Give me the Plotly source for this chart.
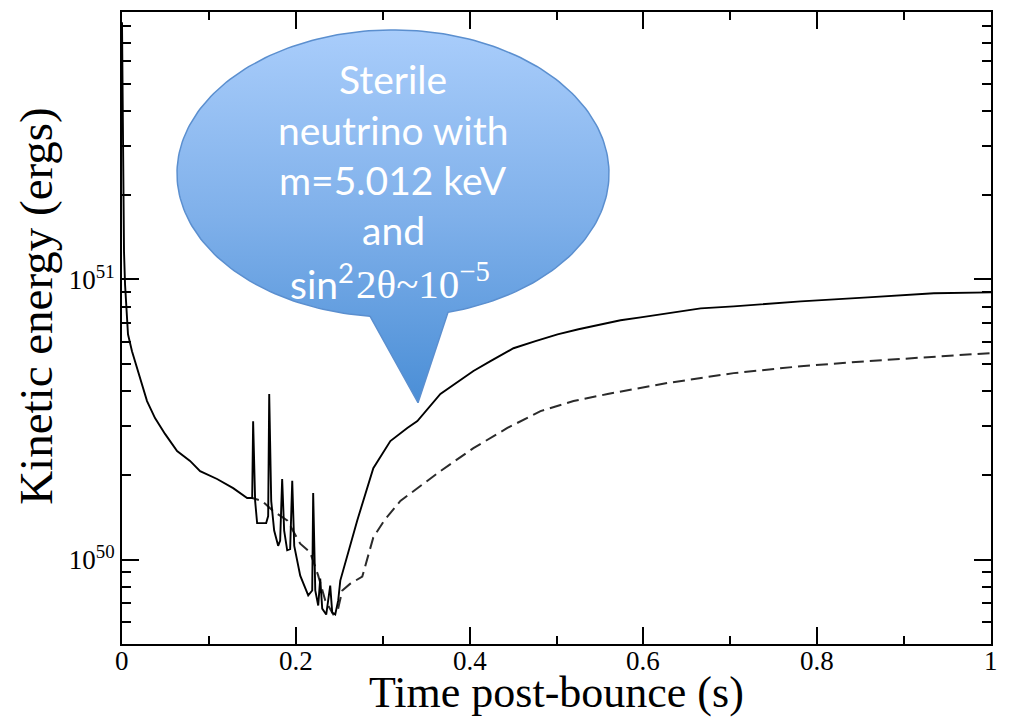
import numpy as np
import plotly.graph_objects as go

# Kinetic energy of the explosion vs. time after core bounce.
# Energies are stored in units of 1e50 erg.
time_solid = [0.0, 0.0012, 0.0023, 0.0035, 0.0046, 0.0069, 0.0115, 0.0173, 0.0230, 0.0288,
              0.0380, 0.0495, 0.0634, 0.0783, 0.0899, 0.1094, 0.1279, 0.1440, 0.1498, 0.1509,
              0.1532, 0.1555, 0.1659, 0.1682, 0.1694, 0.1717, 0.1751, 0.1797, 0.1820, 0.1843,
              0.1866, 0.1901, 0.1935, 0.1959, 0.1982, 0.2051, 0.2143, 0.2189, 0.2200, 0.2224,
              0.2258, 0.2281, 0.2304, 0.2350, 0.2396, 0.2419, 0.2454, 0.2488, 0.2512, 0.2707,
              0.2892, 0.3088, 0.3283, 0.3399, 0.3664, 0.4044, 0.4240, 0.4505, 0.4758, 0.5012,
              0.5253, 0.5507, 0.5737, 0.5968, 0.6279, 0.6659, 0.7039, 0.7811, 0.8583, 0.9343,
              1.0]
ke_solid = [82.8, 28.5, 12.6, 9.60, 8.35, 6.37, 5.54, 4.82, 4.23, 3.68,
            3.20, 2.81, 2.44, 2.25, 2.07, 1.94, 1.80, 1.66, 1.66, 3.12,
            1.62, 1.35, 1.35, 1.43, 3.90, 1.62, 1.27, 1.12, 1.17, 1.94,
            1.27, 1.08, 1.09, 1.91, 1.12, 0.877, 0.745, 0.776, 1.73, 0.776,
            0.686, 0.856, 0.669, 0.637, 0.808, 0.648, 0.637, 0.715, 0.842, 1.38,
            2.12, 2.65, 2.95, 3.12, 3.90, 4.71, 5.11, 5.68, 6.02, 6.37,
            6.64, 6.92, 7.15, 7.32, 7.57, 7.88, 8.01, 8.35, 8.63, 8.92,
            8.99]

time_dashed = [0.1440, 0.1498, 0.1613, 0.1740, 0.1901, 0.2051, 0.2166, 0.2258, 0.2339, 0.2431,
               0.2477, 0.2535, 0.2627, 0.2765, 0.2892, 0.3018, 0.3203, 0.3468, 0.3664, 0.4044,
               0.4435, 0.4816, 0.5196, 0.5588, 0.5968, 0.6279, 0.7039, 0.7811, 0.8583, 0.9343,
               1.0]
ke_dashed = [1.66, 1.66, 1.62, 1.49, 1.38, 1.14, 1.06, 0.877, 0.715, 0.637,
             0.648, 0.776, 0.821, 0.870, 1.20, 1.38, 1.62, 1.86, 2.07, 2.50,
             2.95, 3.39, 3.68, 3.90, 4.09, 4.27, 4.63, 4.90, 5.11, 5.28,
             5.46]

ERG_UNIT = 1e50
x_ticks = [0, 0.2, 0.4, 0.6, 0.8, 1]
x_ticktext = ["0", "0.2", "0.4", "0.6", "0.8", "1"]
y_ticks = [1e50, 1e51]
y_ticktext = ["10<sup>50</sup>", "10<sup>51</sup>"]
y_minor = [m * 10.0 ** e for e in (49, 50, 51) for m in range(2, 10)]

x_title = "Time post-bounce (s)"
y_title = "Kinetic energy (ergs)"
bubble_lines = ["Sterile", "neutrino with", "m=5.012 keV", "and"]
bubble_last_sans = "sin<sup>2</sup>"
bubble_last_serif = "2θ~10<sup>−5</sup>"

SERIF = "Liberation Serif, Times New Roman, serif"
SANS = "Lato, Open Sans, sans-serif"

fig = go.Figure()
fig.add_trace(go.Scatter(
    x=time_dashed, y=np.array(ke_dashed) * ERG_UNIT, mode="lines",
    line=dict(color="#2a2a2a", width=2, dash="12px,6px"), showlegend=False))
fig.add_trace(go.Scatter(
    x=time_solid, y=np.array(ke_solid) * ERG_UNIT, mode="lines",
    line=dict(color="black", width=1.9), showlegend=False))

# Speech-bubble callout drawn on an overlay pixel-like frame
cx, cy, rx, ry = 393, 172, 216, 144
tip = (418, 402)
a1 = np.degrees(np.arccos((448 - cx) / rx))
a2 = np.degrees(np.arccos((370 - cx) / rx))
ang = np.radians(np.linspace(a2, a1 + 360, 240))
bx = list(cx + rx * np.cos(ang)) + [tip[0], cx + rx * np.cos(np.radians(a2))]
by = list(cy + ry * np.sin(ang)) + [tip[1], cy + ry * np.sin(np.radians(a2))]
fig.add_trace(go.Scatter(
    x=bx, y=by, xaxis="x2", yaxis="y2", mode="lines", fill="toself",
    line=dict(color="#5b8fcf", width=1.5),
    fillgradient=dict(type="vertical", start=28, stop=402,
                      colorscale=[[0, "#a9cdfb"], [0.5, "#7fb0ea"], [1, "#4a8ed6"]]),
    hoverinfo="skip", showlegend=False))

line_y = [77, 128, 179, 229]
for txt, yy in zip(bubble_lines, line_y):
    fig.add_annotation(x=cx, y=yy, xref="x2", yref="y2", text=txt, showarrow=False,
                       font=dict(family=SANS, size=39, color="white"),
                       xanchor="center", yanchor="middle")
fig.add_annotation(x=356, y=280, xref="x2", yref="y2", text=bubble_last_sans, showarrow=False,
                   font=dict(family=SANS, size=39, color="white"),
                   xanchor="right", yanchor="middle")
fig.add_annotation(x=354, y=280, xref="x2", yref="y2", text=bubble_last_serif, showarrow=False,
                   font=dict(family=SERIF, size=41, color="white"),
                   xanchor="left", yanchor="middle")

# Time tick labels
for tv, tt in zip(x_ticks, x_ticktext):
    fig.add_annotation(x=tv, y=-0.0268, xref="x", yref="paper", text=tt, showarrow=False,
                       font=dict(family=SERIF, size=27, color="black"),
                       xanchor="center", yanchor="middle")

# Axis titles
fig.add_annotation(x=0.5, y=-0.077, xref="paper", yref="paper", text=x_title, showarrow=False,
                   font=dict(family=SERIF, size=44, color="black"),
                   xanchor="center", yanchor="middle")
fig.add_annotation(x=-0.099, y=0.535, xref="paper", yref="paper", text=y_title, showarrow=False,
                   textangle=-90, font=dict(family=SERIF, size=47, color="black"),
                   xanchor="center", yanchor="middle")

axis_common = dict(showline=True, linecolor="black", linewidth=2, mirror="allticks",
                   ticks="inside", tickcolor="black", tickwidth=2, ticklen=17,
                   showgrid=False, zeroline=False)

fig.update_layout(
    width=1011, height=721,
    margin=dict(l=122, r=20, t=10, b=77),
    paper_bgcolor="white", plot_bgcolor="white",
    xaxis=dict(range=[0, 1], tickvals=x_ticks, showticklabels=False,
               minor=dict(dtick=0.1, tick0=0, ticks="inside", ticklen=8, tickwidth=2, tickcolor="black"),
               **axis_common),
    yaxis=dict(type="log", range=[np.log10(5e49), np.log10(9e51)],
               tickvals=y_ticks, ticktext=y_ticktext,
               minor=dict(tickvals=y_minor, ticks="inside", ticklen=9, tickwidth=2, tickcolor="black"),
               tickfont=dict(family=SERIF, size=27, color="black"),
               **axis_common),
    xaxis2=dict(overlaying="x", range=[122, 991], visible=False, fixedrange=True),
    yaxis2=dict(overlaying="y", range=[644, 10], visible=False, fixedrange=True),
)

fig.write_html("out.html")
